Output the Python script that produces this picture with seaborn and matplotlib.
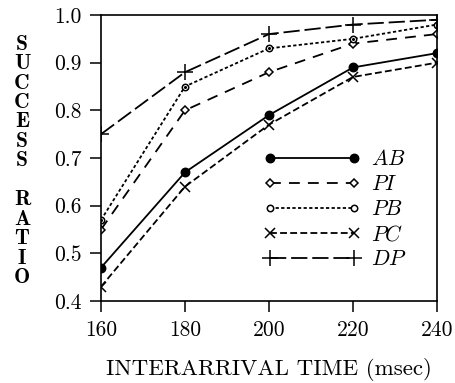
import numpy as np
import pandas as pd
import matplotlib
matplotlib.use("Agg")
import matplotlib.pyplot as plt
import seaborn as sns

# values
arrival = [160, 180, 200, 220, 240]
ab = [0.47, 0.67, 0.79, 0.89, 0.92]
pi = [0.55, 0.80, 0.88, 0.94, 0.96]
pb = [0.57, 0.85, 0.93, 0.95, 0.98]
pc = [0.43, 0.64, 0.77, 0.87, 0.90]
dp = [0.75, 0.88, 0.96, 0.98, 0.99]
series_names = ["AB", "PI", "PB", "PC", "DP"]
y_ticks = [0.4, 0.5, 0.6, 0.7, 0.8, 0.9, 1.0]

df = pd.DataFrame({"time": arrival, "AB": ab, "PI": pi, "PB": pb, "PC": pc, "DP": dp})
long_df = df.melt(id_vars="time", var_name="policy", value_name="ratio")

sns.set_style("ticks")
plt.rcParams["font.family"] = ["cmr10", "DejaVu Serif"]
plt.rcParams["mathtext.fontset"] = "cm"
plt.rcParams["axes.formatter.use_mathtext"] = True
plt.rcParams["axes.linewidth"] = 1.2
plt.rcParams["axes.edgecolor"] = "black"
plt.rcParams["text.color"] = "black"
plt.rcParams["axes.labelcolor"] = "black"

styles = {
    "AB": dict(marker="o", ms=6, mfc="black", ls="-"),
    "PI": dict(marker="D", ms=4.2, mfc="white", ls=(0, (6, 4.5))),
    "PB": dict(marker="o", ms=4.6, mfc="white", ls=(0, (1.8, 1.3))),
    "PC": dict(marker="x", ms=7, mfc="none", ls=(0, (3.8, 1.8))),
    "DP": dict(marker="+", ms=11, mfc="none", ls=(0, (9, 2.7))),
}

fig = plt.figure(figsize=(4.55, 3.83), dpi=100)
ax = fig.add_axes([101 / 455, 1 - 301 / 383, 336 / 455, 286 / 383])

for name in series_names:
    st = styles[name]
    sub = long_df[long_df["policy"] == name]
    sns.lineplot(data=sub, x="time", y="ratio", ax=ax, color="black",
                 linewidth=1.3, linestyle=st["ls"], marker=st["marker"],
                 markersize=st["ms"], markerfacecolor=st["mfc"],
                 markeredgecolor="black", markeredgewidth=1.1,
                 label=f"${name}$")

# little dot in the PB circles
pb_df = long_df[long_df["policy"] == "PB"]
ax.plot(pb_df["time"], pb_df["ratio"], ls="none", marker="o", ms=1.2,
        color="black")

ax.set_xlim(160, 240)
ax.set_ylim(0.4, 1.0)
ax.set_xticks(arrival)
ax.set_xticklabels([str(t) for t in arrival])
ax.set_yticks(y_ticks)
ax.set_yticklabels([f"{v:.1f}" for v in y_ticks])
ax.tick_params(axis="both", direction="out", length=8, width=1.1,
               labelsize=15.5, pad=6, color="black", labelcolor="black")

ax.set_xlabel("INTERARRIVAL TIME (msec)", fontsize=16.5, labelpad=13)
ax.set_ylabel("S\nU\nC\nC\nE\nS\nS\n\nR\nA\nT\nI\nO", rotation=0,
              fontsize=15.5, family="cmb10", linespacing=1.03,
              ha="center", va="center")
ax.yaxis.set_label_coords(-0.235, 0.49)

leg = ax.legend(loc="upper left", bbox_to_anchor=(0.485, 0.53), frameon=False,
                fontsize=15.5, handlelength=4.5, handletextpad=0.45,
                labelspacing=0.25, numpoints=2, borderpad=0, borderaxespad=0)

fig.savefig("out.png", dpi=100)
